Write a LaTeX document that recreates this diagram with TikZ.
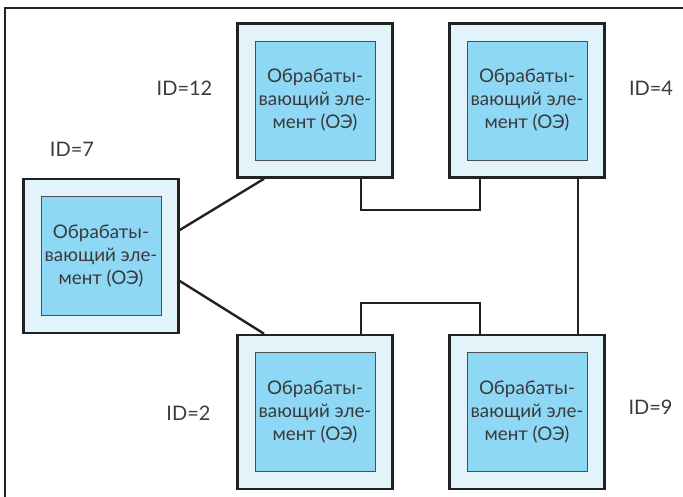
\documentclass[tikz,border=0pt]{standalone}
\usepackage{fontspec}
\setmainfont{Lato}
\usetikzlibrary{positioning}

\definecolor{peouter}{HTML}{E2F3FA}
\definecolor{peinner}{HTML}{8ED8F5}
\definecolor{peline}{HTML}{222222}
\definecolor{petext}{HTML}{3A3A3A}

\tikzset{
  pe/.style={draw=peline,line width=2.6pt,fill=peouter,minimum width=155pt,minimum height=154pt,inner sep=0pt},
  pecore/.style={draw=peline!80,line width=0.9pt,fill=peinner,minimum width=120pt,minimum height=119pt,
    inner sep=0pt,align=center,text=petext,font=\fontsize{18.8}{23}\selectfont},
  idlabel/.style={text=petext,font=\fontsize{20}{24}\selectfont,inner sep=0pt},
  link/.style={draw=peline,line width=2.4pt}
}

\newcommand{\petext}{Обрабаты-\\вающий эле-\\мент (ОЭ)}

\begin{document}
\begin{tikzpicture}[x=1pt,y=-1pt,node distance=212pt,on grid]
\useasboundingbox (0,0) rectangle (683,497);
\draw[peline,line width=1.6pt] (5,497) -- (5,8) -- (683,8);

\node[pe] (pe12) at (315,100.5) {};
\node[pe] (pe4) [right=of pe12] {};
\node[pe] (pe2) [below=311.5pt of pe12] {};
\node[pe] (pe9) [right=of pe2] {};
\node[pe] (pe7) at (101,256) {};

\node[pecore] at (pe12) {\petext};
\node[pecore] at (pe4) {\petext};
\node[pecore] at (pe2) {\petext};
\node[pecore] at (pe9) {\petext};
\node[pecore] at (pe7) {\petext};

\node[idlabel] (id12) at (184.5,88.5) {ID=12};
\node[idlabel] (id4) at (651,88.5) {ID=4};
\node[idlabel] (id7) at (72,149.5) {ID=7};
\node[idlabel] (id2) at (188.5,413) {ID=2};
\node[idlabel] (id9) at (650.5,407) {ID=9};

\draw[link] ([yshift=26pt]pe7.east) -- ([xshift=-51pt]pe12.south);
\draw[link] ([yshift=-25pt]pe7.east) -- ([xshift=-51pt]pe2.north);
\draw[link] ([xshift=46pt]pe12.south) -- ++(0,-31pt) -| ([xshift=-47pt]pe4.south);
\draw[link] ([xshift=51pt]pe4.south) -- ([xshift=51pt]pe9.north);
\draw[link] ([xshift=46pt]pe2.north) -- ++(0,31pt) -| ([xshift=-47pt]pe9.north);
\end{tikzpicture}
\end{document}
